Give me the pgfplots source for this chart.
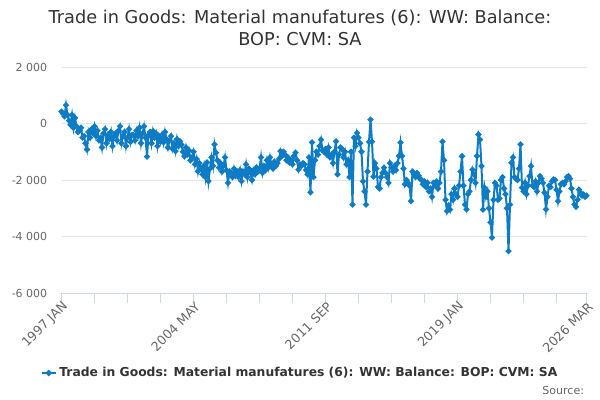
\documentclass[border=0pt]{standalone}
\usepackage{fontspec}
\setmainfont{DejaVu Sans}
\usepackage{pgfplots}
\pgfplotsset{compat=1.18}
\usepackage{pgfplotstable}
\definecolor{onsblue}{RGB}{14,124,196}
\definecolor{titlegray}{RGB}{51,51,51}
\definecolor{tickgray}{RGB}{102,102,102}
\definecolor{gridgray}{RGB}{230,230,230}
\definecolor{axisblue}{RGB}{204,214,235}
\pgfplotstableread{
v
420
350
250
650
300
100
-50
300
-150
200
-100
-300
-250
-150
-500
-450
-700
-920
-300
-500
-200
-350
-100
-450
-250
-600
-500
-850
-350
-200
-700
-400
-550
-300
-800
-450
-350
-600
-250
-100
-700
-450
-300
-800
-500
-200
-650
-400
-400
-600
-250
-450
-150
-700
-350
-100
-500
-1170
-400
-300
-700
-270
-500
-350
-800
-450
-650
-400
-670
-300
-550
-850
-600
-450
-900
-700
-980
-550
-800
-630
-750
-1000
-1160
-850
-1100
-950
-1300
-1200
-1000
-1450
-1250
-1690
-1400
-1600
-1800
-1500
-1900
-1380
-2040
-1600
-1200
-1500
-740
-1030
-1300
-1560
-1400
-1700
-1500
-1200
-1650
-2100
-1700
-1750
-1900
-1600
-1850
-1700
-1900
-1650
-2040
-1700
-1800
-1450
-1900
-1600
-1750
-2000
-1650
-1800
-1550
-1700
-1600
-1200
-1750
-1500
-1650
-1300
-1550
-1200
-1450
-1600
-1350
-1500
-1400
-1250
-980
-1150
-1000
-1100
-1300
-1200
-1380
-1300
-1450
-1150
-1030
-1300
-1630
-1450
-1500
-1400
-1450
-1650
-1800
-1200
-2440
-670
-1900
-1300
-1000
-1100
-800
-570
-950
-1000
-900
-1100
-850
-1200
-1100
-1400
-1000
-630
-1800
-1100
-850
-900
-1200
-1000
-1450
-1300
-1900
-1000
-2870
-500
-800
-330
-500
-700
-1000
-2050
-2400
-2870
-1700
-650
140
-640
-1880
-1400
-1600
-2240
-2300
-1900
-1750
-1560
-1750
-1900
-2100
-1400
-1550
-1700
-1500
-1650
-1400
-1150
-680
-1150
-1600
-2150
-2000
-2100
-2200
-2750
-1700
-1800
-1900
-1750
-1850
-1950
-2000
-2150
-2050
-2250
-2100
-2400
-2300
-2600
-2100
-2200
-2050
-2300
-2100
-1700
-640
-1300
-2700
-3100
-2900
-3050
-2500
-2700
-2300
-2500
-2600
-2200
-1700
-1160
-2200
-2870
-3040
-2500
-2400
-2000
-1630
-1800
-2100
-1150
-390
-570
-1510
-3050
-2270
-2600
-2400
-3000
-3500
-4040
-2700
-2100
-2200
-2700
-2650
-2000
-1900
-2300
-2500
-3000
-4520
-2870
-1390
-1200
-1900
-1950
-2000
-1600
-740
-2270
-2400
-2100
-2500
-2200
-1860
-1510
-2200
-2250
-2050
-2400
-2100
-1860
-1950
-2100
-2450
-3040
-2600
-2200
-2250
-2050
-1980
-2000
-2350
-2750
-2400
-2150
-2100
-2150
-2050
-1900
-1860
-1950
-2300
-2600
-2870
-2950
-2700
-2340
-2450
-2550
-2510
-2600
-2550
}\datatable
\begin{document}
\begin{tikzpicture}
\useasboundingbox (0,0) rectangle (450pt,300pt);
\node[anchor=base, text=titlegray, font=\fontsize{13.3}{16}\selectfont] at (225pt,282pt) {Trade in Goods: Material manufatures (6): WW: Balance:};
\node[anchor=base, text=titlegray, font=\fontsize{13.3}{16}\selectfont] at (225pt,265.5pt) {BOP: CVM: SA};
\begin{axis}[
  at={(46.125pt,80.25pt)}, anchor=south west,
  scale only axis, width=393.75pt, height=169.5pt,
  xmin=0, xmax=350, ymin=-6000, ymax=2000,
  axis y line*=left, axis x line*=bottom,
  y axis line style={draw=none},
  x axis line style={draw=axisblue, line width=0.75pt},
  ytick={-6000,-4000,-2000,0,2000},
  yticklabels={{-6 000},{-4 000},{-2 000},{0},{2 000}},
  ymajorgrids, grid style={draw=gridgray, line width=0.75pt},
  ytick style={draw=none},
  yticklabel style={font=\fontsize{8.25}{10}\selectfont, text=tickgray, anchor=east, inner sep=0pt, xshift=-3pt},
  xtick={0,88,176,264,350},
  xticklabels={{1997 JAN},{2004 MAY},{2011 SEP},{2019 JAN},{2026 MAR}},
  minor xtick={22,44,66,110,132,154,198,220,242,286,308,330},
  tick align=outside,
  major tick length=7.5pt, minor tick length=7.5pt,
  xtick style={draw=axisblue, line width=0.75pt},
  xticklabel style={font=\fontsize{9.5}{11}\selectfont, text=tickgray, rotate=45, anchor=east, inner sep=0pt, xshift=1.5pt, yshift=-3pt},
  clip=false,
  legend style={at={(0.455,-0.354)}, anchor=center, draw=none, fill=none, font=\bfseries\fontsize{9.25}{11}\selectfont, text=titlegray},
  legend image code/.code={\draw[mark repeat=2,mark phase=2,#1] plot coordinates {(0cm,0cm) (0.185cm,0cm) (0.37cm,0cm)};},
]
\addplot[color=onsblue, line width=1.5pt, mark=*, mark size=1.4pt, mark options={solid, draw=none, fill=onsblue}] table[x expr=\coordindex, y=v] {\datatable};
\addlegendentry{Trade in Goods: Material manufatures (6): WW: Balance: BOP: CVM: SA}
\end{axis}
\node[anchor=east, text=tickgray, font=\fontsize{8.25}{10}\selectfont] at (441.5pt,7.5pt) {Source:};
\end{tikzpicture}
\end{document}
